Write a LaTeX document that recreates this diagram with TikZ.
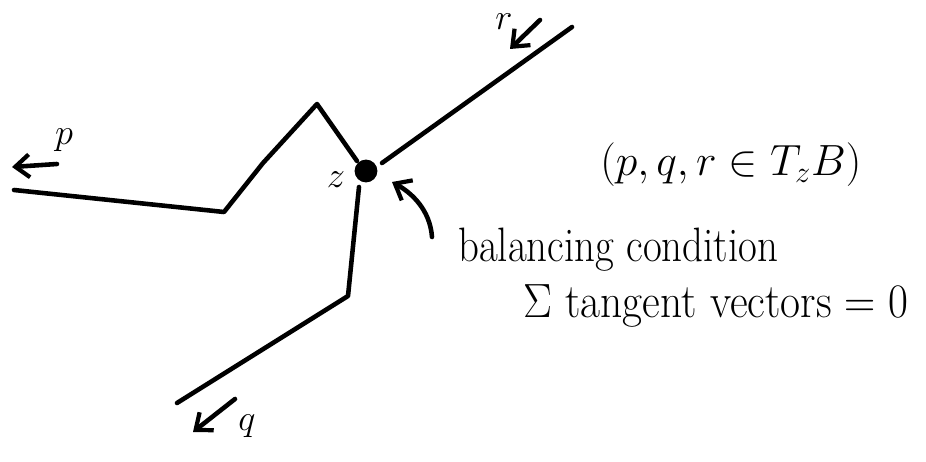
\documentclass[tikz,border=0pt]{standalone}
\usetikzlibrary{arrows.meta}
\begin{document}
\begin{tikzpicture}[x=0.02cm,y=-0.02cm,
  stroke/.style={line width=2.6pt,line cap=round,line join=round},
  vec/.style={stroke,-{Straight Barb[length=8pt,width=13pt,line width=2.4pt]}},
  lbl/.style={font=\fontsize{22}{26}\selectfont,inner sep=0pt},
  note/.style={font=\fontsize{25}{30}\selectfont,inner sep=0pt,anchor=base west}]
\useasboundingbox (0,0) rectangle (926,462);
% vertex
\node[circle,fill=black,minimum size=13pt,inner sep=0pt] (z) at (366,171) {};
\node[lbl] (zl) at (336,180) {$z$};
% legs
\coordinate (p0) at (14,190);
\coordinate (p1) at (224,212);
\coordinate (p2) at (263,163);
\coordinate (p3) at (317,104);
\coordinate (p4) at (357,161);
\coordinate (r0) at (382,163);
\coordinate (r1) at (572,27);
\coordinate (q0) at (359,187);
\coordinate (q1) at (348,296);
\coordinate (q2) at (177,403);
\draw[stroke] (p0) -- (p1) -- (p2) -- (p3) -- (p4);
\draw[stroke] (r0) -- (r1);
\draw[stroke] (q0) -- (q1) -- (q2);
% tangent vectors
\coordinate (pa) at (57,164); \coordinate (pb) at (12,167);
\coordinate (ra) at (540,20); \coordinate (rb) at (510,49);
\coordinate (qa) at (235,399); \coordinate (qb) at (193,432);
\draw[vec] (pa) -- (pb);
\draw[vec] (ra) -- (rb);
\draw[vec] (qa) -- (qb);
\node[lbl] (pl) at (64,140) {$p$};
\node[lbl] (rl) at (504,22) {$r$};
\node[lbl] (ql) at (247,426) {$q$};
% annotation
\node[note] (tz) at (600,176) {\fontsize{27}{32}\selectfont$(p,q,r\in T_z B)$};
\node[note] (bal) at (458,262) {\scalebox{0.93}[1.1]{balancing condition}};
\node[note] (sum) at (523,318) {\scalebox{0.99}[1.1]{$\Sigma$ tangent vectors $=0$}};
\coordinate (ca) at (432,237);
\draw[vec] (ca) .. controls (430,210) and (412,193) .. (392,182);
\end{tikzpicture}
\end{document}
